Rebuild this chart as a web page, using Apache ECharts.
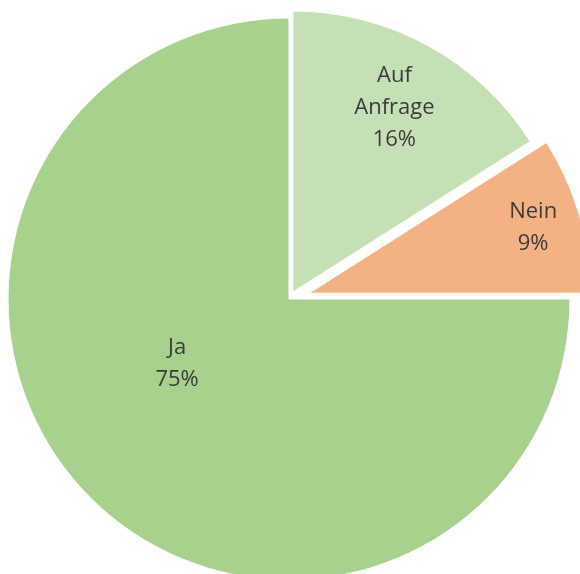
<!DOCTYPE html>
<html>
<head>
<meta charset="utf-8">
<script src="https://cdn.jsdelivr.net/npm/echarts@6/dist/echarts.min.js"></script>
<style>
  html, body { margin: 0; background: #fff; }
  #chart { width: 580px; height: 574px; }
</style>
</head>
<body>
<div id="chart"></div>
<script>
const categories = ["Auf Anfrage", "Nein", "Ja"];
const shares = [16, 9, 75];

// look & placement, kept apart from the data
const colors = ["#c5e0b4", "#f4b183", "#a9d18e"];
const explode = [8, 21, 0];          // px each slice is pulled out
const labelDist = [0.75, 0.83, 0.46]; // label distance as share of radius
const labelTurn = [0, 0, -15];       // Ja label sits a bit below its mid angle

const cx = 289, cy = 299, R = 281;

// mid angle of each slice, clockwise from 12 o'clock
const total = shares.reduce((a, b) => a + b, 0);
let start = 90;
const mids = shares.map((v) => {
  const sweep = (v / total) * 360;
  const m = start - sweep / 2;
  start -= sweep;
  return m;
});

const chart = echarts.init(document.getElementById("chart"));

// one pie per slice so every slice can be pulled out by its own amount
const series = categories.map((name, k) => {
  const a = (mids[k] * Math.PI) / 180;
  const c = [cx + explode[k] * Math.cos(a), cy - explode[k] * Math.sin(a)];
  return {
    type: "pie",
    center: c,
    radius: [0, R],
    startAngle: 90,
    clockwise: true,
    silent: true,
    avoidLabelOverlap: false,
    label: {
      show: true,
      position: "inside",
      color: "#3b3b3b",
      fontFamily: "Open Sans",
      fontSize: 22,
      lineHeight: 32,
      formatter: (p) => p.name.replace(" ", "\n") + "\n" + Math.round(p.percent) + "%",
    },
    labelLine: { show: false },
    labelLayout: () => {
      const b = ((mids[k] + labelTurn[k]) * Math.PI) / 180;
      return {
        x: c[0] + labelDist[k] * R * Math.cos(b),
        y: c[1] - labelDist[k] * R * Math.sin(b),
        align: "center",
        verticalAlign: "middle",
      };
    },
    data: categories.map((n, i) => ({
      name: n,
      value: shares[i],
      itemStyle:
        i === k
          ? { color: colors[i], borderColor: "#fff", borderWidth: 1 }
          : { color: "transparent", borderWidth: 0 },
      label: { show: i === k },
    })),
  };
});

chart.setOption({
  animation: false,
  backgroundColor: "#fff",
  series: series,
});
</script>
</body>
</html>
